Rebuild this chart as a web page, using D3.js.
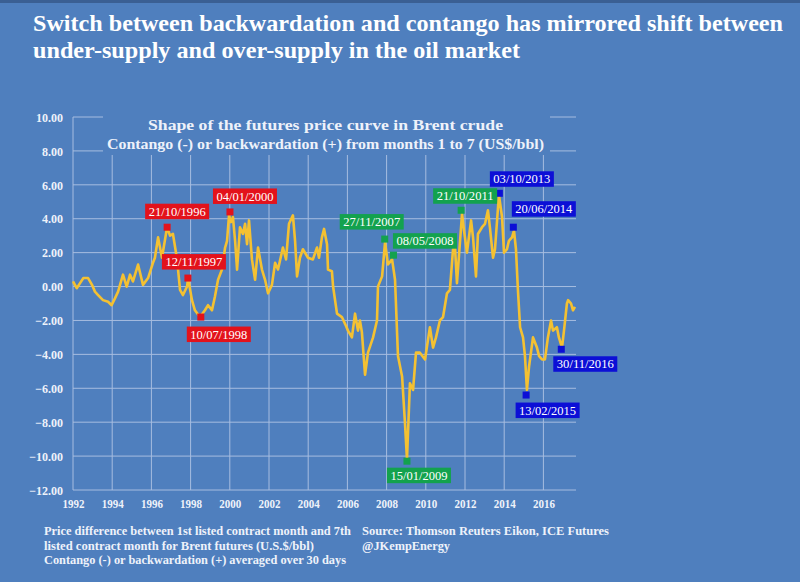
<!DOCTYPE html>
<html>
<head>
<meta charset="utf-8">
<script src="https://cdn.jsdelivr.net/npm/d3@7"></script>
<style>
  html, body { margin: 0; padding: 0; background: #4f7fbe; }
  svg { display: block; }
</style>
</head>
<body>
<svg id="chart" width="800" height="582"></svg>
<script>
// ---------------- DATA ----------------
const years = [1992.00,1992.19,1992.36,1992.53,1992.77,1992.97,1993.12,1993.28,1993.53,1993.79,1993.97,1994.14,1994.30,1994.55,1994.74,1994.91,1995.06,1995.32,1995.57,1995.83,1996.08,1996.18,1996.34,1996.54,1996.80,1996.95,1997.10,1997.31,1997.46,1997.61,1997.82,1997.87,1998.07,1998.22,1998.48,1998.73,1998.89,1999.09,1999.24,1999.40,1999.60,1999.76,1999.86,1999.96,2000.06,2000.16,2000.27,2000.37,2000.52,2000.67,2000.78,2000.88,2000.98,2001.13,2001.29,2001.44,2001.64,2001.80,2001.95,2002.15,2002.31,2002.46,2002.71,2002.87,2003.02,2003.22,2003.33,2003.43,2003.58,2003.73,2003.99,2004.24,2004.45,2004.55,2004.70,2004.81,2004.96,2005.01,2005.21,2005.27,2005.47,2005.72,2005.88,2006.03,2006.23,2006.39,2006.54,2006.64,2006.74,2006.90,2007.05,2007.31,2007.51,2007.56,2007.77,2007.92,2008.07,2008.28,2008.43,2008.58,2008.79,2008.94,2009.04,2009.19,2009.35,2009.50,2009.70,2009.96,2010.21,2010.37,2010.52,2010.72,2010.88,2011.08,2011.23,2011.39,2011.49,2011.59,2011.85,2011.95,2012.10,2012.31,2012.41,2012.56,2012.66,2012.87,2013.02,2013.17,2013.27,2013.43,2013.53,2013.73,2013.89,2013.99,2014.14,2014.24,2014.40,2014.50,2014.60,2014.70,2014.81,2014.96,2015.06,2015.16,2015.27,2015.47,2015.67,2015.78,2015.93,2016.08,2016.23,2016.39,2016.49,2016.69,2016.79,2016.95,2017.05,2017.20,2017.26,2017.41,2017.51,2017.61];
const spread = [0.3,-0.1,0.2,0.5,0.5,0.1,-0.3,-0.5,-0.8,-0.9,-1.1,-0.7,-0.3,0.7,0.0,0.7,0.3,1.3,0.1,0.5,1.4,1.7,2.9,1.7,3.5,3.0,3.1,1.6,-0.2,-0.5,0.0,0.5,-0.8,-1.4,-1.8,-1.4,-1.1,-1.4,-0.6,0.4,1.0,2.3,2.7,4.2,3.8,4.1,2.7,1.0,3.5,3.1,3.7,2.5,3.9,1.6,0.4,2.3,1.0,0.4,-0.4,0.1,1.4,1.0,2.3,1.6,3.7,4.2,2.7,0.6,1.7,2.2,1.7,1.6,2.3,1.7,2.9,3.4,2.5,1.0,0.9,0.0,-1.6,-1.8,-2.2,-2.6,-3.0,-1.6,-2.6,-2.0,-2.7,-5.2,-3.9,-3.0,-2.0,0.0,0.6,2.6,1.3,1.6,0.4,-4.1,-5.3,-8.1,-10.2,-5.7,-6.1,-3.9,-3.9,-4.3,-2.4,-3.6,-3.0,-2.0,-1.8,-0.4,-0.2,2.2,2.3,0.2,4.3,3.3,2.0,3.9,2.9,0.6,3.1,3.5,3.7,4.5,3.5,1.7,2.2,5.4,4.1,2.0,2.2,2.7,2.9,3.3,2.2,-0.2,-2.4,-3.0,-4.1,-6.1,-4.7,-3.0,-3.6,-4.1,-4.3,-4.3,-3.0,-2.0,-2.6,-2.4,-3.0,-3.6,-2.6,-1.0,-0.8,-1.0,-1.4,-1.2];

const markerDates  = ["21/10/1996","12/11/1997","10/07/1998","04/01/2000","27/11/2007","08/05/2008","15/01/2009","21/10/2011","03/10/2013","20/06/2014","13/02/2015","30/11/2016"];
const markerValues = [3.5, 0.5, -1.8, 4.4, 2.8, 1.85, -10.3, 4.5, 5.5, 3.5, -6.4, -3.7];
const markerGroup  = ["red","red","red","red","green","green","green","green","blue","blue","blue","blue"];

const yTicks = [10,8,6,4,2,0,-2,-4,-6,-8,-10,-12];
const xTicks = [1992,1994,1996,1998,2000,2002,2004,2006,2008,2010,2012,2014,2016];

const titleLines = ["Switch between backwardation and contango has mirrored shift between",
                    "under-supply and over-supply in the oil market"];
const chartTitleLines = ["Shape of  the futures price curve in Brent crude",
                         "Contango (-) or backwardation (+) from months 1 to 7 (US$/bbl)"];
const noteLines = ["Price difference between 1st listed contract month and 7th",
                   "listed contract month for Brent futures (U.S.$/bbl)",
                   "Contango (-) or backwardation (+) averaged over 30 days"];
const sourceLines = ["Source: Thomson Reuters Eikon, ICE Futures", "@JKempEnergy"];

// ---------------- LAYOUT / STYLE ----------------
const BG = "#4f7fbe";
const groupColor = { red: "#e3121b", green: "#13a24e", blue: "#0c0fd6" };
const labelOffsets = [[10,-15.5],[6,-16],[18,17.5],[15,-15.5],[-13,-17],[31.5,-14],[12,14.5],[4,-14],[22.5,-14],[30.5,-18],[21.5,15.5],[24,15]];

const svg = d3.select("#chart");
svg.append("rect").attr("width", 800).attr("height", 582).attr("fill", BG);
svg.append("rect").attr("width", 800).attr("height", 3).attr("fill", "#3a5f93");

const x = d3.scaleLinear().domain([1992, 1992 + 503 / 19.6]).range([73, 576]);
const y = d3.scaleLinear().domain([-12, 10]).range([490, 117]);

const gridColor = "#a7bde0";
const g = svg.append("g");

// horizontal gridlines
g.append("g").selectAll("line").data(yTicks).join("line")
  .attr("x1", x.range()[0]).attr("x2", x.range()[1])
  .attr("y1", d => y(d)).attr("y2", d => y(d))
  .attr("stroke", gridColor).attr("stroke-width", 1);

// vertical gridlines (incl. left axis)
g.append("g").selectAll("line").data(xTicks).join("line")
  .attr("x1", d => x(d)).attr("x2", d => x(d))
  .attr("y1", y(10)).attr("y2", y(-12))
  .attr("stroke", gridColor).attr("stroke-width", 1);

// Y axis labels via axis generator
const yAxis = d3.axisLeft(y).tickValues(yTicks).tickFormat(d3.format(".2f")).tickSize(0).tickPadding(0);
const yg = svg.append("g").attr("transform", "translate(63,0)").call(yAxis);
yg.select(".domain").remove();
yg.selectAll("text").attr("fill", "#eef2fa").attr("font-family", "Liberation Serif, serif")
  .attr("font-weight", "bold").attr("font-size", 12).attr("dy", "0.35em");

// X axis labels
const xAxis = d3.axisBottom(x).tickValues(xTicks).tickFormat(d3.format("d")).tickSize(0).tickPadding(0);
const xg = svg.append("g").attr("transform", "translate(0,499)").call(xAxis);
xg.select(".domain").remove();
xg.selectAll("text").attr("fill", "#eef2fa").attr("font-family", "Liberation Serif, serif")
  .attr("font-weight", "bold").attr("font-size", 12).attr("dy", "0.71em")
  .attr("textLength", 22).attr("lengthAdjust", "spacingAndGlyphs");

// chart title box (covers gridlines)
svg.append("rect").attr("x", 103).attr("y", 109).attr("width", 447).attr("height", 46).attr("fill", BG);
const ctLen = [355, 437];
const ctY = [130, 149];
svg.append("g").selectAll("text").data(chartTitleLines).join("text")
  .attr("x", 325.5).attr("y", (d, i) => ctY[i]).attr("text-anchor", "middle")
  .attr("fill", "#eef2fa").attr("font-family", "Liberation Serif, serif").attr("font-weight", "bold")
  .attr("font-size", 15).attr("textLength", (d, i) => ctLen[i]).attr("lengthAdjust", "spacingAndGlyphs")
  .text(d => d);

// line
const pts = years.map((yr, i) => [yr, spread[i]]);
svg.append("path").datum(pts)
  .attr("fill", "none").attr("stroke", "#f4c132").attr("stroke-width", 2.6)
  .attr("stroke-linejoin", "round")
  .attr("d", d3.line().x(d => x(d[0])).y(d => y(d[1])));

// markers + labels
const parse = d3.timeParse("%d/%m/%Y");
const toYear = s => {
  const dt = parse(s);
  const y0 = new Date(dt.getFullYear(), 0, 1), y1 = new Date(dt.getFullYear() + 1, 0, 1);
  return dt.getFullYear() + (dt - y0) / (y1 - y0);
};
const markers = markerDates.map((s, i) => ({
  label: s, yr: toYear(s), v: markerValues[i], c: groupColor[markerGroup[i]], off: labelOffsets[i]
}));
const mg = svg.append("g");
mg.selectAll("rect.m").data(markers).join("rect").attr("class", "m")
  .attr("x", d => x(d.yr) - 3.5).attr("y", d => y(d.v) - 3.5)
  .attr("width", 7).attr("height", 7).attr("fill", d => d.c);
const lb = mg.selectAll("g.l").data(markers).join("g").attr("class", "l")
  .attr("transform", d => `translate(${x(d.yr) + d.off[0]},${y(d.v) + d.off[1]})`);
lb.append("rect").attr("x", -32).attr("y", -8).attr("width", 64).attr("height", 15.5).attr("fill", d => d.c);
lb.append("text").attr("x", 0).attr("y", 4.2).attr("text-anchor", "middle")
  .attr("fill", "#ffffff").attr("font-family", "Liberation Serif, serif").attr("font-size", 12.5)
  .attr("textLength", 57).attr("lengthAdjust", "spacingAndGlyphs")
  .text(d => d.label);

// main title
const tLen = [750, 487];
const tY = [31, 58];
svg.append("g").selectAll("text").data(titleLines).join("text")
  .attr("x", 33).attr("y", (d, i) => tY[i])
  .attr("fill", "#ffffff").attr("font-family", "Liberation Serif, serif").attr("font-weight", "bold")
  .attr("font-size", 23).attr("textLength", (d, i) => tLen[i]).attr("lengthAdjust", "spacingAndGlyphs")
  .text(d => d);

// footnotes
const nLen = [307, 270, 302];
svg.append("g").selectAll("text").data(noteLines).join("text")
  .attr("x", 44).attr("y", (d, i) => 535 + i * 14.5)
  .attr("fill", "#eef2fa").attr("font-family", "Liberation Serif, serif").attr("font-weight", "bold")
  .attr("font-size", 12).attr("textLength", (d, i) => nLen[i]).attr("lengthAdjust", "spacingAndGlyphs")
  .text(d => d);
const sLen = [247, 88];
svg.append("g").selectAll("text").data(sourceLines).join("text")
  .attr("x", 362).attr("y", (d, i) => 535 + i * 14.5)
  .attr("fill", "#eef2fa").attr("font-family", "Liberation Serif, serif").attr("font-weight", "bold")
  .attr("font-size", 12).attr("textLength", (d, i) => sLen[i]).attr("lengthAdjust", "spacingAndGlyphs")
  .text(d => d);
</script>
</body>
</html>
